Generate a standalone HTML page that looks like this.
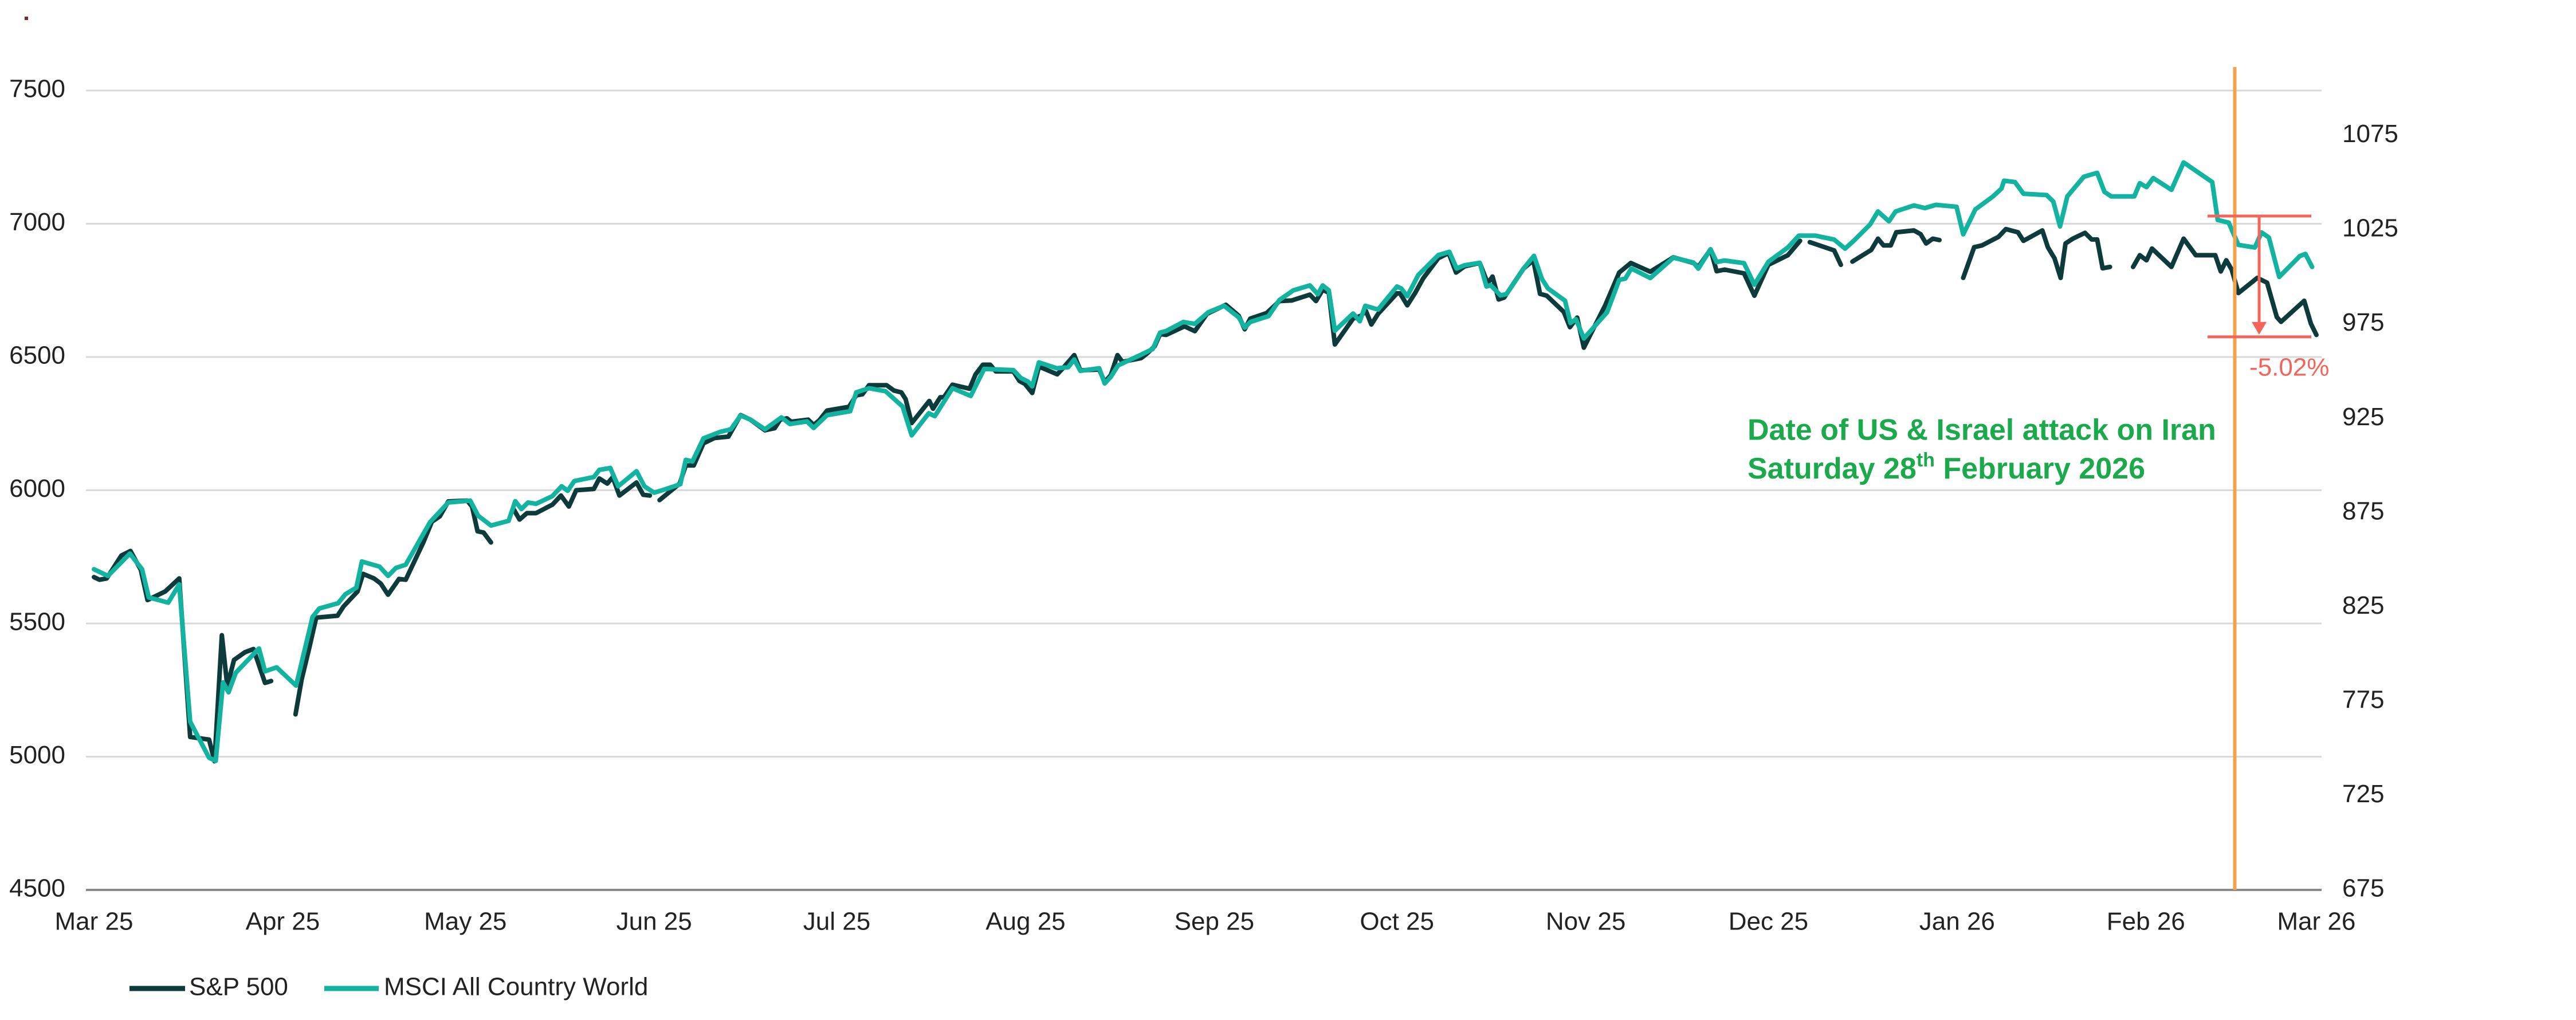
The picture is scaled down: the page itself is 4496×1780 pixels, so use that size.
<!DOCTYPE html>
<html><head><meta charset="utf-8"><style>
html,body{margin:0;padding:0;background:#fff;}
svg{display:block;font-family:"Liberation Sans",sans-serif;}
</style></head><body>
<svg id="chart" width="4496" height="1780" viewBox="0 0 4496 1780" xmlns="http://www.w3.org/2000/svg">
<rect x="43" y="29" width="6" height="6" fill="#7a2a2a"/>
<g id="grid"></g>
<g id="ylabels"></g>
<g id="y2labels"></g>
<g id="xlabels"></g>
<g id="series"></g>
<g id="annot"></g>
<g>
  <line x1="226" y1="1725" x2="323" y2="1725" stroke="#0d3a3a" stroke-width="9"/>
  <text x="330" y="1725" font-size="44" fill="#222" dominant-baseline="middle">S&amp;P 500</text>
  <line x1="566" y1="1725" x2="661" y2="1725" stroke="#13b3a1" stroke-width="9"/>
  <text x="670" y="1725" font-size="44" fill="#222" dominant-baseline="middle">MSCI All Country World</text>
</g>
</svg>
<script>
const leftTicks = [4500, 5000, 5500, 6000, 6500, 7000, 7500];
const rightTicks = [675, 725, 775, 825, 875, 925, 975, 1025, 1075];
const monthLabels = ["Mar 25","Apr 25","May 25","Jun 25","Jul 25","Aug 25","Sep 25","Oct 25","Nov 25","Dec 25","Jan 26","Feb 26","Mar 26"];
const monthDays = [0,31,61,92,122,153,184,214,245,275,306,337,365];
const eventDay = 351.6;
const dropTopValue = 1032.3;
const dropBottomValue = 968.2;
const dropLabel = "-5.02%";

const spDays = [0,0.9,2.1,4.5,6.0,7.7,8.8,11.7,14.0,15.8,18.9,19.8,21.0,21.9,23.0,24.8,26.2,28.1,29.1,null,33.1,34.1,35.4,36.5,40.0,41.0,43.3,44.2,46.0,47.1,48.3,50.1,51.2,54.1,55.5,56.8,58.2,61.3,62.1,63.0,64.0,65.2,null,69.0,69.9,71.1,72.6,75.3,76.7,78.0,79.2,82.1,83.0,84.3,85.2,86.3,89.1,90.2,91.3,null,92.9,96.2,97.2,98.5,100.1,101.9,104.2,106.2,107.8,110.2,111.8,112.7,113.8,114.5,117.3,118.2,119.1,120.4,124.0,125.2,126.2,127.3,130.2,131.4,132.6,133.3,134.3,137.2,137.8,139.0,139.6,141.0,143.8,144.8,146.0,147.2,148.1,151.0,152.0,152.9,154.1,155.2,158.2,159.1,161.0,162.0,165.1,166.0,167.0,168.1,168.9,172.0,173.0,174.2,175.1,176.1,179.1,180.8,182.8,185.9,188.0,189.0,189.9,192.6,194.7,196.7,199.7,200.7,201.8,202.8,203.8,206.8,208.1,208.9,209.8,210.9,214.0,214.5,215.7,217.0,218.3,220.8,222.5,223.7,225.1,227.6,228.9,229.7,230.7,231.6,234.8,236.4,237.5,238.6,241.4,242.4,243.6,244.7,248.2,250.5,252.4,255.6,259.4,262.7,263.5,265.5,266.5,267.8,271.0,272.7,275.0,278.2,280.2,null,281.8,285.8,286.9,null,288.8,291.9,293.0,293.9,295.1,296.0,298.9,300.0,300.9,302.0,303.1,null,307.0,308.8,310.1,312.8,314.0,316.0,316.9,320.0,320.9,322.0,323.0,323.8,325.0,327.0,328.1,329.0,329.9,331.1,null,334.9,336.0,337.1,338.0,341.2,343.2,345.2,348.4,349.3,350.2,351.1,352.2,355.3,356.9,358.5,359.2,363.0,364.1,365.0];
const spVals = [5674,5664,5669,5755,5772,5701,5588,5620,5669,5074,5064,4983,5456,5265,5363,5392,5404,5277,5284,null,5159,5289,5412,5522,5529,5564,5620,5686,5669,5650,5608,5667,5664,5804,5882,5902,5958,5961,5939,5846,5841,5804,null,5926,5890,5914,5914,5946,5980,5939,6000,6005,6044,6025,6049,5980,6029,5983,5980,null,5963,6025,6093,6093,6176,6196,6201,6282,6265,6225,6233,6265,6270,6257,6265,6245,6262,6299,6313,6356,6360,6394,6394,6374,6367,6342,6252,6335,6306,6349,6349,6396,6381,6435,6471,6471,6446,6446,6410,6399,6365,6464,6435,6457,6507,6450,6453,6406,6432,6507,6482,6496,6514,6540,6586,6583,6615,6597,6662,6696,6655,6604,6644,6665,6710,6712,6734,6710,6752,6741,6547,6644,6655,6673,6622,6662,6739,6739,6694,6741,6795,6871,6890,6817,6840,6853,6777,6802,6716,6723,6832,6863,6737,6730,6669,6612,6648,6535,6694,6817,6853,6820,6874,6853,6838,6903,6822,6828,6814,6730,6846,6882,6936,null,6931,6900,6846,null,6858,6902,6944,6919,6919,6968,6975,6961,6926,6944,6939,null,6797,6912,6919,6951,6980,6968,6936,6975,6912,6870,6797,6926,6944,6966,6941,6941,6833,6838,null,6838,6882,6863,6907,6838,6944,6882,6882,6821,6863,6828,6740,6797,6779,6650,6632,6711,6625,6583];

const msDays = [0,2.3,5.9,7.9,9.0,12.2,14.0,15.8,18.9,20.0,21.2,22.1,23.3,27.1,28.1,30.0,33.2,35.9,37.0,40.1,41.3,43.1,44.0,46.9,48.3,49.6,51.2,55.2,58.2,61.8,63.1,65.2,68.1,69.2,70.2,71.3,72.6,75.3,76.8,77.8,78.9,82.1,83.0,84.8,86.1,89.1,90.4,92.0,93.8,96.3,97.2,98.3,100.1,102.8,104.6,106.2,107.8,110.2,112.9,114.3,117.1,118.2,120.4,124.2,125.2,127.3,130.0,131.9,132.8,134.3,137.1,138.1,139.3,141.0,144.0,146.2,151.0,152.2,153.4,154.1,155.2,158.1,160.0,161.0,162.0,165.1,166.0,167.0,168.2,172.0,173.9,175.1,176.1,178.9,180.8,183.0,185.6,188.0,189.0,189.9,192.9,194.7,197.0,199.7,201.0,201.8,202.8,203.8,206.8,207.9,208.8,210.9,214.0,214.7,215.7,217.5,220.8,222.6,223.8,225.1,227.6,228.7,229.4,231.0,232.0,234.8,236.5,237.8,238.8,241.6,242.5,243.4,244.7,248.5,250.5,251.5,252.5,255.6,259.4,262.7,263.5,265.5,266.5,267.8,271.0,272.7,275.0,278.2,280.0,282.7,285.8,287.6,289.0,291.7,293.0,294.8,295.9,298.9,300.7,302.5,305.9,307.0,309.0,311.9,313.3,313.7,315.5,316.9,320.7,321.8,322.9,324.1,326.8,329.0,330.2,331.3,335.1,336.0,337.1,338.2,341.2,343.2,347.9,348.8,350.6,352.2,354.9,356.0,357.2,358.9,362.3,363.2,364.3];
const msVals = [845.0,841.5,853.3,845.0,830.1,827.3,837.0,764.2,745.1,743.4,785.0,779.8,790.2,803.0,790.9,793.0,783.3,819.7,824.2,827.0,831.8,835.3,849.1,846.4,841.5,845.7,847.4,870.0,880.4,881.4,873.4,868.2,870.7,881.1,876.9,880.4,879.7,883.8,889.0,886.6,891.8,893.9,897.7,898.7,889.0,897.0,889.0,885.6,887.4,890.1,903.0,902.2,914.4,917.8,919.2,926.5,924.4,919.2,925.5,922.0,923.4,919.9,926.7,928.8,938.8,941.0,939.4,933.9,931.3,916.0,927.7,926.2,932.3,941.0,936.9,951.2,950.6,946.5,944.5,942.0,954.7,951.6,952.1,956.2,950.2,951.6,943.5,947.0,953.1,958.8,961.8,970.5,971.3,976.1,975.1,981.2,984.7,978.6,973.1,976.1,979.2,987.8,992.9,995.5,990.8,995.5,992.9,971.5,980.6,976.5,984.7,982.7,994.9,993.9,989.8,1001.0,1011.6,1013.3,1004.5,1006.2,1007.5,994.9,995.6,990.2,990.9,1004.5,1011.2,999.0,993.9,987.4,975.6,977.6,967.4,981.2,998.4,999.1,1004.5,999.4,1010.2,1007.6,1004.4,1014.7,1007.9,1008.7,1007.3,995.9,1008.0,1015.6,1021.9,1021.9,1019.8,1015.0,1019.1,1027.8,1034.7,1029.5,1034.7,1037.9,1036.5,1038.2,1037.2,1022.6,1035.8,1042.7,1046.9,1051.0,1050.3,1044.1,1043.4,1039.9,1026.8,1042.7,1053.1,1055.2,1045.1,1042.7,1042.7,1049.7,1047.6,1052.4,1046.2,1060.7,1050.3,1030.2,1028.8,1017.0,1015.6,1023.6,1020.9,1000.0,1011.1,1012.2,1005.3];

const NS = "http://www.w3.org/2000/svg";
const X0 = 164, XK = 10.627;
function xScale(d){ return X0 + d*XK; }
function yLeft(v){ return 158 + (7500 - v)*0.465; }
function yRight(m){ return 1553 - (m - 675)*3.2915; }
function mk(tag, attrs, parent){
  const el = document.createElementNS(NS, tag);
  for (const k in attrs) el.setAttribute(k, attrs[k]);
  parent.appendChild(el);
  return el;
}
const grid = document.getElementById('grid');
const yl = document.getElementById('ylabels');
leftTicks.forEach(function(t){
  const y = yLeft(t);
  const gl = mk('line', {x1:150, x2:4052, y1:y, y2:y, stroke: t===4500 ? '#8a8a8a' : '#d9d9d9', 'stroke-width': t===4500 ? 4 : 3}, grid);
  
  
  const tx = mk('text', {x:114, y:y, 'font-size':44, fill:'#222', 'text-anchor':'end', 'dominant-baseline':'middle'}, yl);
  tx.textContent = t;
  
  
});
const y2 = document.getElementById('y2labels');
rightTicks.forEach(function(t){
  const tx = mk('text', {x:4088, y:yRight(t), 'font-size':44, fill:'#222', 'dominant-baseline':'middle'}, y2);
  tx.textContent = t;
  
  
});
const xl = document.getElementById('xlabels');
monthLabels.forEach(function(lab, i){
  const tx = mk('text', {x:xScale(monthDays[i]), y:1611, 'font-size':44, fill:'#222', 'text-anchor':'middle', 'dominant-baseline':'middle'}, xl);
  tx.textContent = lab;
  
  
});
function buildPath(days, vals, yf){
  let d = '', pen = false;
  for (let i = 0; i < vals.length; i++){
    if (vals[i] === null || days[i] === null){ pen = false; continue; }
    d += (pen ? 'L' : 'M') + xScale(days[i]).toFixed(1) + ' ' + yf(vals[i]).toFixed(1) + ' ';
    pen = true;
  }
  return d;
}
const ser = document.getElementById('series');
const sp = mk('path', {d: buildPath(spDays, spVals, yLeft), fill:'none', stroke:'#0d3a3a', 'stroke-width':8, 'stroke-linejoin':'round', 'stroke-linecap':'round'}, ser);


const ms = mk('path', {d: buildPath(msDays, msVals, yRight), fill:'none', stroke:'#13b3a1', 'stroke-width':8, 'stroke-linejoin':'round', 'stroke-linecap':'round'}, ser);



const an = document.getElementById('annot');
const ex = xScale(eventDay);
const ev = mk('line', {x1:ex, x2:ex, y1:117, y2:1553, stroke:'#f5a04a', 'stroke-width':6}, an);


const yT = yRight(dropTopValue), yB = yRight(dropBottomValue);
const b1 = mk('line', {x1:3853, x2:4034, y1:yT, y2:yT, stroke:'#f4645a', 'stroke-width':5}, an);


const b2 = mk('line', {x1:3853, x2:4034, y1:yB, y2:yB, stroke:'#f4645a', 'stroke-width':5}, an);


const ar = mk('line', {x1:3943, x2:3943, y1:yT, y2:yB-20, stroke:'#f4645a', 'stroke-width':5}, an);


const ah = mk('polygon', {points:(3930)+','+(yB-26)+' '+(3956)+','+(yB-26)+' 3943,'+(yB-4), fill:'#f4645a'}, an);


const dl = mk('text', {x:3926, y:yB+56, 'font-size':44, fill:'#f4645a', 'dominant-baseline':'middle'}, an);
dl.textContent = dropLabel;


const t1 = mk('text', {x:3050, y:754, 'font-size':52, 'font-weight':'bold', fill:'#1aaa4b', 'dominant-baseline':'middle'}, an);
t1.textContent = 'Date of US & Israel attack on Iran';


const t2 = mk('text', {x:3050, y:821, 'font-size':52, 'font-weight':'bold', fill:'#1aaa4b', 'dominant-baseline':'middle'}, an);


const s1 = mk('tspan', {}, t2); s1.textContent = 'Saturday 28';
const s2 = mk('tspan', {'font-size':34, dy:-16}, t2); s2.textContent = 'th';
const s3 = mk('tspan', {dy:16}, t2); s3.textContent = ' February 2026';
</script>
</body></html>
